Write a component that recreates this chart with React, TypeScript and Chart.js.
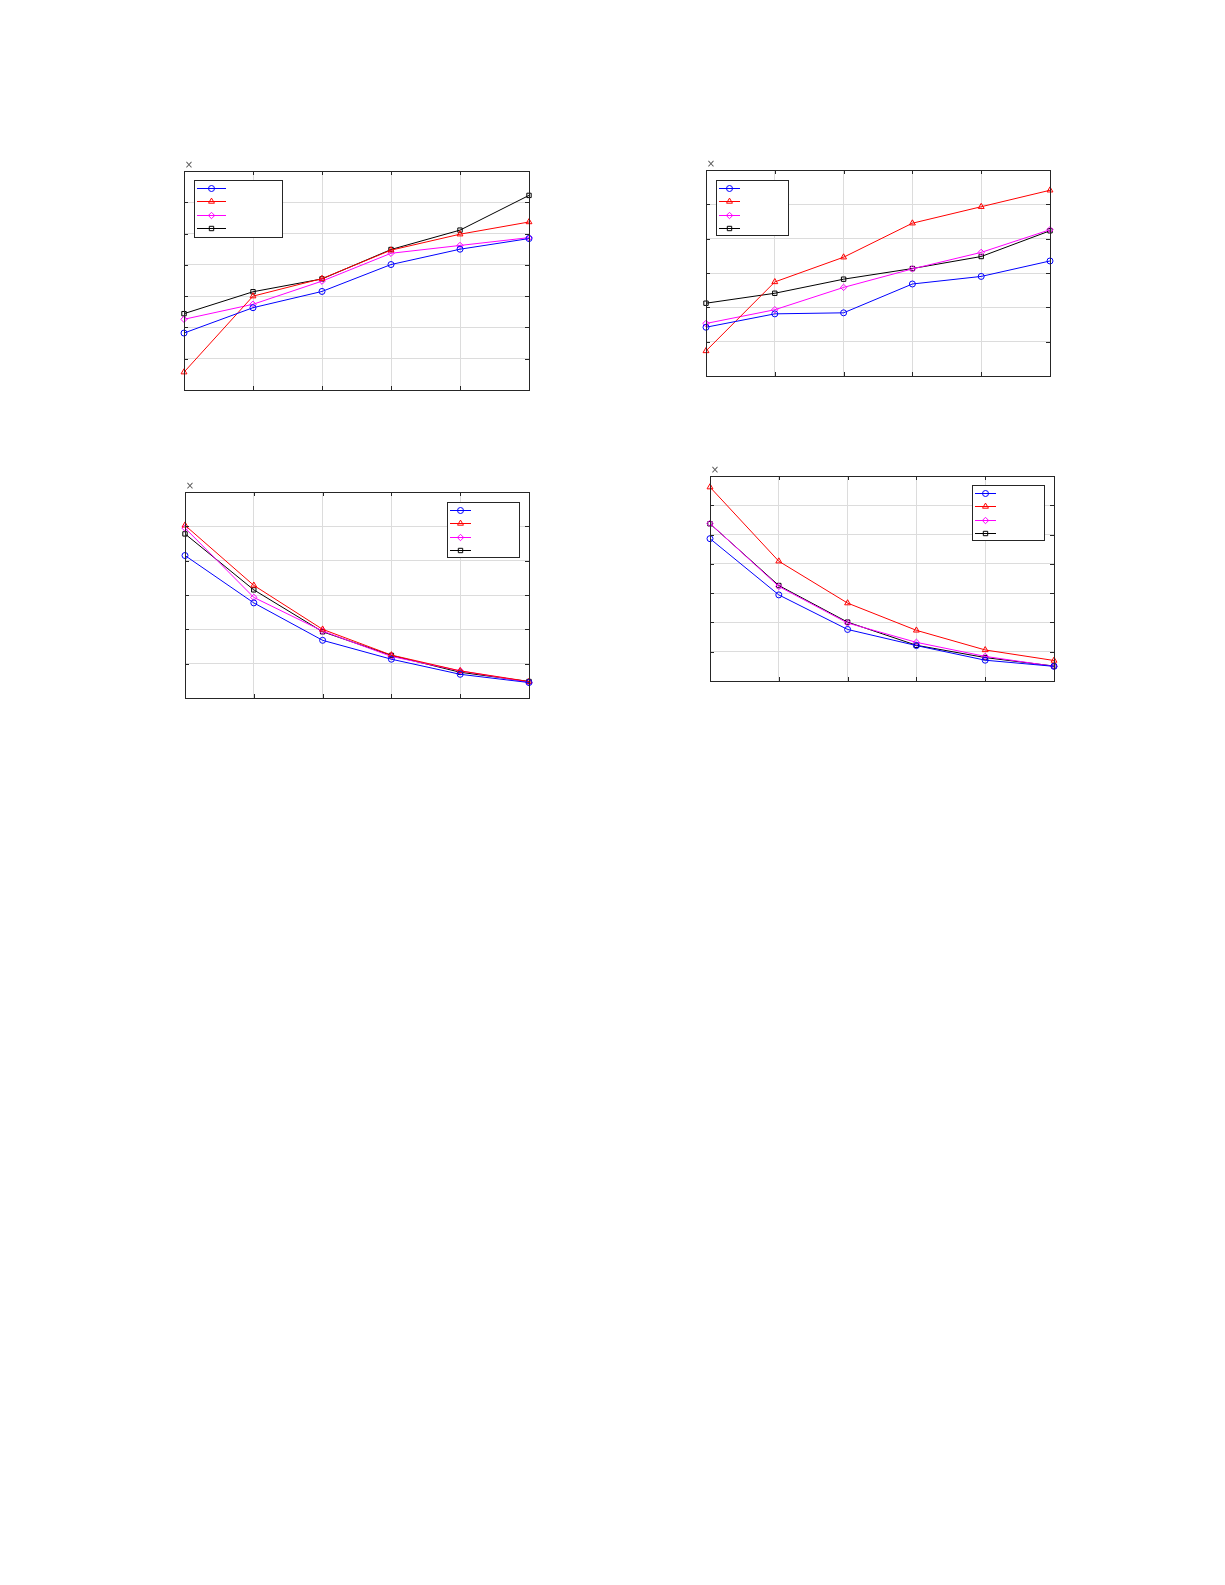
import { useEffect, useRef } from "react";
import { Chart, registerables } from "chart.js";

Chart.register(...registerables);

// categorias do eixo x (sem rótulos visíveis no original)
const xLabels = ["1", "2", "3", "4", "5", "6"];

// gráfico superior esquerdo (eixo y de 0 a 7)
const tlCircle = [1.82, 2.63, 3.15, 4.01, 4.5, 4.84];
const tlTriangle = [0.57, 3.0, 3.56, 4.47, 4.98, 5.37];
const tlDiamond = [2.26, 2.74, 3.48, 4.37, 4.62, 4.87];
const tlSquare = [2.44, 3.14, 3.55, 4.49, 5.11, 6.22];

// gráfico superior direito (eixo y de 0 a 6)
const trCircle = [1.42, 1.81, 1.84, 2.68, 2.9, 3.35];
const trTriangle = [0.73, 2.74, 3.46, 4.45, 4.93, 5.41];
const trDiamond = [1.53, 1.93, 2.58, 3.12, 3.6, 4.26];
const trSquare = [2.12, 2.41, 2.82, 3.13, 3.48, 4.23];

// gráfico inferior esquerdo (eixo y de 0 a 6)
const blCircle = [4.15, 2.77, 1.68, 1.13, 0.69, 0.45];
const blTriangle = [5.03, 3.28, 2.0, 1.25, 0.79, 0.48];
const blDiamond = [4.95, 2.93, 1.95, 1.21, 0.79, 0.46];
const blSquare = [4.78, 3.15, 1.93, 1.24, 0.75, 0.48];

// gráfico inferior direito (eixo y de 0 a 7)
const brCircle = [4.86, 2.94, 1.76, 1.21, 0.71, 0.5];
const brTriangle = [6.62, 4.09, 2.66, 1.73, 1.06, 0.7];
const brDiamond = [5.38, 3.23, 1.98, 1.32, 0.84, 0.5];
const brSquare = [5.37, 3.26, 2.01, 1.22, 0.8, 0.51];

const seriesStyle = [
  { color: "rgb(0,0,255)", point: "circle", radius: 3 },
  { color: "rgb(255,0,0)", point: "triangle", radius: 3.4 },
  { color: "rgb(255,0,255)", point: "rectRot", radius: 3.2 },
  { color: "rgb(0,0,0)", point: "rect", radius: 3.1 },
];

type LegendCfg = { side: "left" | "right"; dx: number; dy: number; w: number; h: number; lineLen: number };

// desenha um marcador vazado
function marker(ctx: CanvasRenderingContext2D, style: string, x: number, y: number, r: number) {
  ctx.beginPath();
  if (style === "circle") {
    ctx.arc(x, y, r, 0, Math.PI * 2);
  } else if (style === "triangle") {
    ctx.moveTo(x, y - r);
    ctx.lineTo(x + r * 0.866, y + r * 0.5);
    ctx.lineTo(x - r * 0.866, y + r * 0.5);
    ctx.closePath();
  } else if (style === "rectRot") {
    ctx.moveTo(x, y - r);
    ctx.lineTo(x + r, y);
    ctx.lineTo(x, y + r);
    ctx.lineTo(x - r, y);
    ctx.closePath();
  } else {
    const s = r * Math.SQRT1_2;
    ctx.rect(x - s, y - s, s * 2, s * 2);
  }
  ctx.stroke();
}

function makeFramePlugin(legend: LegendCfg) {
  return {
    id: "frame",
    afterDraw(chart: any) {
      const { ctx, chartArea } = chart;
      const { left, right, top, bottom } = chartArea;
      const px = (v: number) => Math.round(v) + 0.5;
      ctx.save();
      ctx.strokeStyle = "#262626";
      ctx.lineWidth = 1;
      // ticks internos
      const xs = chart.scales.x;
      const ys = chart.scales.y;
      ctx.beginPath();
      xs.ticks.forEach((_t: any, i: number) => {
        const x = px(xs.getPixelForTick(i));
        ctx.moveTo(x, bottom);
        ctx.lineTo(x, bottom - 4);
        ctx.moveTo(x, top);
        ctx.lineTo(x, top + 4);
      });
      ys.ticks.forEach((t: any) => {
        const y = px(ys.getPixelForValue(t.value));
        ctx.moveTo(left, y);
        ctx.lineTo(left + 4, y);
        ctx.moveTo(right, y);
        ctx.lineTo(right - 4, y);
      });
      ctx.stroke();
      // caixa dos eixos
      ctx.strokeRect(px(left), px(top), Math.round(right) - Math.round(left), Math.round(bottom) - Math.round(top));

      // legenda (sem texto)
      const bx = legend.side === "left" ? left + legend.dx : right - legend.dx - legend.w;
      const by = top + legend.dy;
      ctx.fillStyle = "#ffffff";
      ctx.fillRect(bx, by, legend.w, legend.h);
      ctx.strokeStyle = "#262626";
      ctx.strokeRect(px(bx), px(by), Math.round(legend.w), Math.round(legend.h));
      chart.data.datasets.forEach((ds: any, i: number) => {
        const st = seriesStyle[i];
        const y = px(by + 7.5 + i * 13.6);
        ctx.strokeStyle = st.color;
        ctx.lineWidth = 1;
        ctx.beginPath();
        ctx.moveTo(bx + 3, y);
        ctx.lineTo(bx + 3 + legend.lineLen, y);
        ctx.stroke();
        marker(ctx, st.point, bx + 3 + legend.lineLen / 2, y, st.radius);
      });

      // marcador de expoente
      ctx.fillStyle = "#555555";
      ctx.font = "10px 'DejaVu Sans'";
      ctx.textAlign = "center";
      ctx.textBaseline = "middle";
      ctx.fillText("×", left + 5, top - 6);
      ctx.restore();
    },
  };
}

type PanelProps = {
  left: number;
  top: number;
  width: number;
  height: number;
  yMax: number;
  series: number[][];
  legend: LegendCfg;
};

function Panel({ left, top, width, height, yMax, series, legend }: PanelProps) {
  const canvasRef = useRef<HTMLCanvasElement | null>(null);
  const chartRef = useRef<Chart | null>(null);

  useEffect(() => {
    if (chartRef.current) chartRef.current.destroy();
    if (!canvasRef.current) return;
    chartRef.current = new Chart(canvasRef.current, {
      type: "line",
      data: {
        labels: xLabels,
        datasets: series.map((values, i) => ({
          label: "",
          data: values,
          borderColor: seriesStyle[i].color,
          borderWidth: 1,
          pointStyle: seriesStyle[i].point as any,
          pointRadius: seriesStyle[i].radius,
          pointBorderWidth: 1,
          pointBorderColor: seriesStyle[i].color,
          pointBackgroundColor: "rgba(0,0,0,0)",
          tension: 0,
          fill: false,
        })),
      },
      options: {
        animation: false,
        responsive: true,
        maintainAspectRatio: false,
        layout: { padding: { left: 12, right: 12, top: 16, bottom: 12 } },
        plugins: { legend: { display: false }, tooltip: { enabled: false } },
        scales: {
          x: {
            offset: false,
            ticks: { display: false },
            grid: { color: "#dcdcdc", drawTicks: false },
            border: { display: false },
          },
          y: {
            min: 0,
            max: yMax,
            ticks: { display: false, stepSize: 1 },
            grid: { color: "#dcdcdc", drawTicks: false },
            border: { display: false },
          },
        },
      },
      plugins: [makeFramePlugin(legend)],
    });
    return () => {
      if (chartRef.current) {
        chartRef.current.destroy();
        chartRef.current = null;
      }
    };
  }, []);

  return (
    <div style={{ position: "absolute", left: left - 12, top: top - 16, width: width + 24, height: height + 28 }}>
      <canvas ref={canvasRef}></canvas>
    </div>
  );
}

export default function App() {
  return (
    <div style={{ position: "absolute", left: 0, top: 0, width: 1225, height: 800, background: "#fff" }}>
      <Panel
        left={184}
        top={171}
        width={345}
        height={219}
        yMax={7}
        series={[tlCircle, tlTriangle, tlDiamond, tlSquare]}
        legend={{ side: "left", dx: 10, dy: 9, w: 88, h: 57, lineLen: 29 }}
      />
      <Panel
        left={706}
        top={170}
        width={344}
        height={206}
        yMax={6}
        series={[trCircle, trTriangle, trDiamond, trSquare]}
        legend={{ side: "left", dx: 10, dy: 10, w: 72, h: 55, lineLen: 21 }}
      />
      <Panel
        left={185}
        top={492}
        width={344}
        height={206}
        yMax={6}
        series={[blCircle, blTriangle, blDiamond, blSquare]}
        legend={{ side: "right", dx: 10, dy: 10, w: 72, h: 55, lineLen: 21 }}
      />
      <Panel
        left={710}
        top={476}
        width={344}
        height={205}
        yMax={7}
        series={[brCircle, brTriangle, brDiamond, brSquare]}
        legend={{ side: "right", dx: 10, dy: 9, w: 72, h: 55, lineLen: 21 }}
      />
    </div>
  );
}
